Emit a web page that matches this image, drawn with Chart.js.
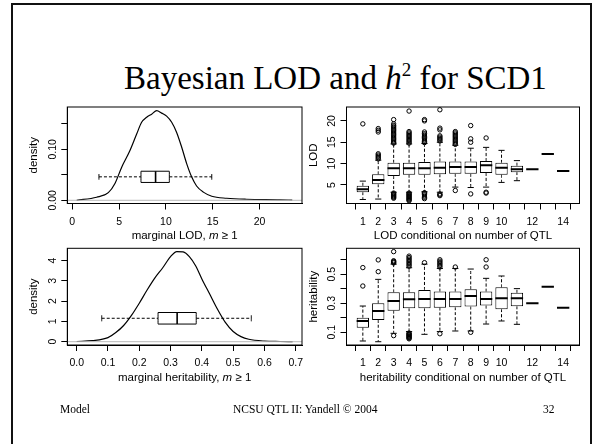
<!DOCTYPE html>
<html><head><meta charset="utf-8">
<script src="https://cdn.jsdelivr.net/npm/chart.js@4.4.1/dist/chart.umd.min.js"></script>
<style>
html,body{margin:0;padding:0;background:#fff;}
body{width:600px;height:444px;overflow:hidden;position:relative;font-family:"Liberation Serif","Times New Roman",serif;color:#000;}
#frame{position:absolute;left:11px;top:3px;width:577px;height:480px;border-left:2px solid #111;border-top:2px solid #111;border-right:2px solid #111;}
canvas{position:absolute;left:0;top:0;}
#title{position:absolute;left:124px;top:62px;font-size:33px;line-height:32px;white-space:nowrap;}
#title sup{font-size:19px;line-height:0;vertical-align:13px;}
.foot{position:absolute;top:403px;font-size:11.5px;line-height:12px;white-space:nowrap;}
</style></head>
<body>
<div id="frame"></div>
<div id="title">Bayesian LOD and <i>h</i><sup>2</sup> for SCD1</div>
<canvas id="c1" width="600" height="444"></canvas>
<canvas id="c2" width="600" height="444"></canvas>
<canvas id="c3" width="600" height="444"></canvas>
<canvas id="c4" width="600" height="444"></canvas>
<div class="foot" style="left:60px;">Model</div>
<div class="foot" style="left:233px;">NCSU QTL II: Yandell © 2004</div>
<div class="foot" style="left:543px;">32</div>
<script>
// ---------------- data ----------------
// marginal LOD density (top-left)
const lodDensX = [0.47, 2.6, 3.85, 4.56, 5.28, 6.1, 6.88, 7.41, 7.95, 8.48, 9.02, 9.55, 10.08, 10.62, 11.15, 11.69, 12.22, 12.75, 13.28, 14.0, 14.9, 16.5, 18.6, 22.2, 23.5];
const lodDensY = [0.0, 0.006, 0.015, 0.033, 0.065, 0.095, 0.130, 0.153, 0.163, 0.169, 0.176, 0.171, 0.165, 0.153, 0.133, 0.104, 0.072, 0.046, 0.028, 0.016, 0.008, 0.004, 0.002, 0.001, 0.0003];
// lower whisker, Q1, median, Q3, upper whisker
const lodMarginalBox = [2.85, 7.34, 8.9, 10.37, 14.9];

// marginal heritability density (bottom-left)
const h2DensX = [0.0, 0.05, 0.10, 0.125, 0.15, 0.175, 0.20, 0.225, 0.25, 0.275, 0.30, 0.32, 0.34, 0.36, 0.38, 0.40, 0.425, 0.45, 0.475, 0.50, 0.525, 0.55, 0.60, 0.65, 0.69];
const h2DensY = [0.01, 0.05, 0.2, 0.45, 0.8, 1.3, 1.9, 2.55, 3.15, 3.65, 4.2, 4.45, 4.43, 4.2, 3.75, 3.1, 2.35, 1.6, 0.95, 0.5, 0.25, 0.12, 0.03, 0.01, 0.0];
const h2MarginalBox = [0.08, 0.26, 0.321, 0.382, 0.558];

// conditional on number of QTL (right panels)
const qtlCounts = [1, 2, 3, 4, 5, 6, 7, 8, 9, 10, 11, 12, 13, 14];
const qtlTickLabels = ['1', '2', '3', '4', '5', '6', '7', '8', '9', '10', '', '12', '', '14'];

const lodStats = [
  [1.6, 3.3, 4.0, 4.8, 5.9],
  [1.7, 5.15, 6.15, 7.5, 10.8],
  [3.3, 7.1, 8.9, 10.2, 14.6],
  [3.3, 7.4, 8.9, 10.2, 14.6],
  [3.4, 7.4, 8.9, 10.4, 14.7],
  [3.3, 7.5, 9.0, 10.5, 15.0],
  [4.5, 7.6, 9.2, 10.5, 14.3],
  [4.4, 7.6, 9.2, 10.5, 13.6],
  [4.5, 7.8, 9.6, 10.6, 13.8],
  [5.6, 7.4, 9.0, 10.2, 13.1],
  [6.0, 8.0, 8.7, 9.5, 10.7],
  [8.7, 8.7, 8.7, 8.7, 8.7],
  [12.25, 12.25, 12.25, 12.25, 12.25],
  [8.27, 8.27, 8.27, 8.27, 8.27]
];
const lodOutliers = [
  [19.3],
  [11.1, 11.4, 11.7, 12.0, 12.3, 17.4, 17.8, 18.2],
  [1.9, 2.1, 2.3, 2.5, 2.7, 2.9, 3.1, 14.8, 15.0, 15.3, 15.6, 15.9, 16.2, 16.5, 16.8, 17.1, 17.4, 17.7, 18.0, 18.3, 18.6, 18.9, 19.3, 20.3],
  [1.3, 1.5, 1.7, 1.9, 2.1, 2.3, 2.5, 2.7, 2.9, 3.1, 14.8, 15.1, 15.4, 15.7, 16.0, 16.3, 16.6, 16.9, 17.2, 17.5, 22.3],
  [1.8, 2.1, 2.4, 2.7, 3.0, 3.2, 14.9, 15.2, 15.5, 15.8, 16.1, 16.4, 16.7, 17.0, 17.4, 20.0, 20.3],
  [2.5, 2.7, 2.9, 15.3, 15.6, 15.9, 16.2, 16.5, 17.9, 18.3, 22.6],
  [3.7, 14.5, 14.8, 15.1, 15.4, 15.7, 16.0, 16.3, 16.6, 16.9, 17.2, 17.5],
  [2.9, 15.0, 15.8, 18.9],
  [3.1, 3.3, 16.0],
  [], [], [], [], []
];

const h2Stats = [
  [0.040, 0.132, 0.178, 0.201, 0.281],
  [0.035, 0.185, 0.247, 0.300, 0.465],
  [0.093, 0.249, 0.316, 0.376, 0.570],
  [0.105, 0.265, 0.327, 0.376, 0.545],
  [0.086, 0.265, 0.330, 0.392, 0.570],
  [0.105, 0.270, 0.330, 0.381, 0.540],
  [0.109, 0.272, 0.330, 0.381, 0.540],
  [0.109, 0.277, 0.351, 0.397, 0.536],
  [0.157, 0.284, 0.330, 0.381, 0.472],
  [0.178, 0.259, 0.335, 0.410, 0.488],
  [0.155, 0.279, 0.335, 0.372, 0.401],
  [0.300, 0.300, 0.300, 0.300, 0.300],
  [0.414, 0.414, 0.414, 0.414, 0.414],
  [0.270, 0.270, 0.270, 0.270, 0.270]
];
const h2Outliers = [
  [0.419, 0.546],
  [0.518, 0.599],
  [0.077, 0.578, 0.583, 0.588, 0.593, 0.656],
  [0.055, 0.060, 0.065, 0.070, 0.075, 0.080, 0.085, 0.090, 0.095, 0.555, 0.565, 0.575, 0.585, 0.595, 0.605, 0.615, 0.625],
  [0.580],
  [0.090, 0.550, 0.560, 0.570, 0.580, 0.590, 0.600],
  [0.550],
  [0.100],
  [0.550, 0.600],
  [], [], [], [], []
];

// axis ticks
const lodDensXTicks = [0, 5, 10, 15, 20];
const lodDensXLabels = ['0', '5', '10', '15', '20'];
const lodDensYTicks = [0, 0.05, 0.10, 0.15];
const lodDensYLabels = ['0.00', '', '0.10', ''];
const h2DensXTicks = [0, 0.1, 0.2, 0.3, 0.4, 0.5, 0.6, 0.7];
const h2DensXLabels = ['0.0', '0.1', '0.2', '0.3', '0.4', '0.5', '0.6', '0.7'];
const h2DensYTicks = [0, 1, 2, 3, 4];
const h2DensYLabels = ['0', '1', '2', '3', '4'];
const lodYTicks = [5, 10, 15, 20];
const lodYLabels = ['5', '10', '15', '20'];
const h2YTicks = [0.1, 0.2, 0.3, 0.4, 0.5, 0.6];
const h2YLabels = ['0.1', '', '0.3', '', '0.5', ''];

// ---------------- drawing helpers ----------------
const SANS = '"Liberation Sans", Arial, sans-serif';
const TICK_SIZE = 10.5, TITLE_SIZE = 11.5;
const YW = 38.75, XH = 40;

function xAxis(min, max, ticks, labels) {
  return {
    type: 'linear', position: 'bottom', min, max, offset: false,
    afterBuildTicks: s => { s.ticks = ticks.map(v => ({ value: v })); },
    afterFit: s => { s.height = XH; },
    ticks: { display: true, autoSkip: false, maxRotation: 0, minRotation: 0, padding: 6, color: '#000',
      font: { family: SANS, size: TICK_SIZE }, callback: (v, i) => labels[i] },
    grid: { display: true, drawOnChartArea: false, drawTicks: true, tickLength: 6, color: '#000', lineWidth: 1 },
    border: { display: true, color: '#000', width: 1 },
    title: { display: false }
  };
}
function yAxis(min, max, ticks, title) {
  return {
    type: 'linear', position: 'left', min, max,
    afterBuildTicks: s => { s.ticks = ticks.map(v => ({ value: v })); },
    afterFit: s => { s.width = YW; },
    ticks: { display: false },
    grid: { display: true, drawOnChartArea: false, drawTicks: true, tickLength: 6, color: '#000', lineWidth: 1 },
    border: { display: true, color: '#000', width: 1 },
    title: { display: true, text: title, color: '#000', padding: 0, font: { family: SANS, size: TITLE_SIZE, lineHeight: 1 } }
  };
}
function framePlugin(yLabels, xTitleParts) {
  return {
    id: 'rframe',
    afterDraw(chart) {
      const { ctx, chartArea: a } = chart;
      ctx.save();
      ctx.strokeStyle = '#000'; ctx.lineWidth = 1;
      ctx.strokeRect(a.left, a.top, a.right - a.left, a.bottom - a.top);
      ctx.fillStyle = '#000';
      ctx.font = TICK_SIZE + 'px ' + SANS;
      ctx.textAlign = 'center'; ctx.textBaseline = 'middle';
      const ys = chart.scales.y;
      ys.ticks.forEach((t, i) => {
        const lab = yLabels[i];
        if (!lab) return;
        ctx.save();
        ctx.translate(a.left - 14, ys.getPixelForValue(t.value));
        ctx.rotate(-Math.PI / 2);
        ctx.fillText(lab, 0, 0);
        ctx.restore();
      });
      // x-axis title with italic parts
      const fontOf = it => (it ? 'italic ' : '') + TITLE_SIZE + 'px ' + SANS;
      let total = 0;
      xTitleParts.forEach(p => { ctx.font = fontOf(p[1]); total += ctx.measureText(p[0]).width; });
      let x = (a.left + a.right) / 2 - total / 2;
      const y = a.bottom + 32.5;
      ctx.textAlign = 'left';
      xTitleParts.forEach(p => { ctx.font = fontOf(p[1]); ctx.fillText(p[0], x, y); x += ctx.measureText(p[0]).width; });
      ctx.restore();
    }
  };
}
function lineDs(data, extra) {
  return Object.assign({ type: 'scatter', data, showLine: true, spanGaps: false, pointRadius: 0,
    borderColor: '#000', borderWidth: 1, fill: false }, extra || {});
}
// horizontal box-and-whisker inside the density panels
function hBoxDatasets(st, level, halfH, capHalfH) {
  const [lo, q1, md, q3, hi] = st;
  return [
    lineDs([{ x: q1, y: level - halfH }, { x: q3, y: level - halfH }, { x: q3, y: level + halfH }, { x: q1, y: level + halfH }, { x: q1, y: level - halfH }]),
    lineDs([{ x: md, y: level - halfH }, { x: md, y: level + halfH }], { borderWidth: 1.6 }),
    lineDs([{ x: lo, y: level }, { x: q1, y: level }, { x: q3, y: null }, { x: q3, y: level }, { x: hi, y: level }], { borderDash: [3, 2] }),
    lineDs([{ x: lo, y: level - capHalfH }, { x: lo, y: level + capHalfH }, { x: lo, y: null }, { x: hi, y: level - capHalfH }, { x: hi, y: level + capHalfH }])
  ];
}
// vertical box plots by number of QTL
function vBoxDatasets(stats, outliers) {
  const HALF = 0.4, CAP = 0.2;
  const boxes = [], meds = [], whisk = [], caps = [], outs = [];
  stats.forEach((s, i) => {
    const x = qtlCounts[i];
    const [lo, q1, md, q3, hi] = s;
    meds.push({ x: x - HALF, y: md }, { x: x + HALF, y: md }, { x, y: null });
    if (q3 > q1) {
      boxes.push({ x, y: [q1, q3] });
      whisk.push({ x, y: q3 }, { x, y: hi }, { x, y: null }, { x, y: q1 }, { x, y: lo }, { x, y: null });
      caps.push({ x: x - CAP, y: hi }, { x: x + CAP, y: hi }, { x, y: null }, { x: x - CAP, y: lo }, { x: x + CAP, y: lo }, { x, y: null });
    }
    outliers[i].forEach(v => outs.push({ x, y: v }));
  });
  return [
    lineDs(meds, { borderWidth: 2, order: 0 }),
    { type: 'scatter', data: outs, pointRadius: 2.2, pointStyle: 'circle', pointBorderWidth: 1,
      pointBorderColor: '#000', pointBackgroundColor: 'rgba(0,0,0,0)', borderColor: '#000', showLine: false, order: 1 },
    { type: 'bar', data: boxes, backgroundColor: '#fff', borderColor: '#000', borderWidth: 1, borderSkipped: false,
      barPercentage: 0.8, categoryPercentage: 1.0, order: 2 },
    lineDs(whisk, { borderDash: [3, 2], order: 3 }),
    lineDs(caps, { order: 3 })
  ];
}
function makeChart(id, box, xCfg, yCfg, datasets, yLabels, xTitleParts) {
  new Chart(document.getElementById(id), {
    type: 'scatter',
    data: { datasets },
    options: {
      responsive: false, animation: false, devicePixelRatio: 1,
      events: [],
      layout: { padding: { left: box.l - YW, top: box.t, right: 600 - box.r, bottom: 444 - box.b - XH } },
      plugins: { legend: { display: false }, tooltip: { enabled: false }, title: { display: false } },
      elements: { line: { cubicInterpolationMode: 'monotone' } },
      scales: { x: xCfg, y: yCfg }
    },
    plugins: [framePlugin(yLabels, xTitleParts)]
  });
}

const BOX_TL = { l: 67.3, r: 302, t: 107, b: 203.5 };
const BOX_TR = { l: 346.5, r: 579.5, t: 107, b: 203.5 };
const BOX_BL = { l: 67.3, r: 302, t: 248.3, b: 345 };
const BOX_BR = { l: 346.5, r: 579.5, t: 248.3, b: 345 };

// top-left: marginal LOD density
(function () {
  const xmin = -0.53, xmax = 24.54;
  const ds = [
    lineDs([{ x: xmin, y: 0 }, { x: xmax, y: 0 }], { borderColor: '#b8b8b8', borderWidth: 1 }),
    lineDs(lodDensX.map((x, i) => ({ x, y: lodDensY[i] })), { borderWidth: 1.2 })
  ].concat(hBoxDatasets(lodMarginalBox, 0.046, 0.011, 0.0055));
  makeChart('c1', BOX_TL, xAxis(xmin, xmax, lodDensXTicks, lodDensXLabels), yAxis(-0.0063, 0.183, lodDensYTicks, 'density'),
    ds, lodDensYLabels, [['marginal LOD, ', false], ['m', true], [' \u2265 1', false]]);
})();

// top-right: LOD conditional on number of QTL
makeChart('c2', BOX_TR, xAxis(-0.06, 15.06, qtlCounts, qtlTickLabels), yAxis(0.66, 23.25, lodYTicks, 'LOD'),
  vBoxDatasets(lodStats, lodOutliers), lodYLabels, [['LOD conditional on number of QTL', false]]);

// bottom-left: marginal heritability density
(function () {
  const xmin = -0.03, xmax = 0.72;
  const ds = [
    lineDs([{ x: xmin, y: 0 }, { x: xmax, y: 0 }], { borderColor: '#b8b8b8', borderWidth: 1 }),
    lineDs(h2DensX.map((x, i) => ({ x, y: h2DensY[i] })), { borderWidth: 1.2 })
  ].concat(hBoxDatasets(h2MarginalBox, 1.156, 0.285, 0.15));
  makeChart('c3', BOX_BL, xAxis(xmin, xmax, h2DensXTicks, h2DensXLabels), yAxis(-0.163, 4.61, h2DensYTicks, 'density'),
    ds, h2DensYLabels, [['marginal heritability, ', false], ['m', true], [' \u2265 1', false]]);
})();

// bottom-right: heritability conditional on number of QTL
makeChart('c4', BOX_BR, xAxis(-0.06, 15.06, qtlCounts, qtlTickLabels), yAxis(0.0124, 0.679, h2YTicks, 'heritability'),
  vBoxDatasets(h2Stats, h2Outliers), h2YLabels, [['heritability conditional on number of QTL', false]]);
</script>
</body></html>
